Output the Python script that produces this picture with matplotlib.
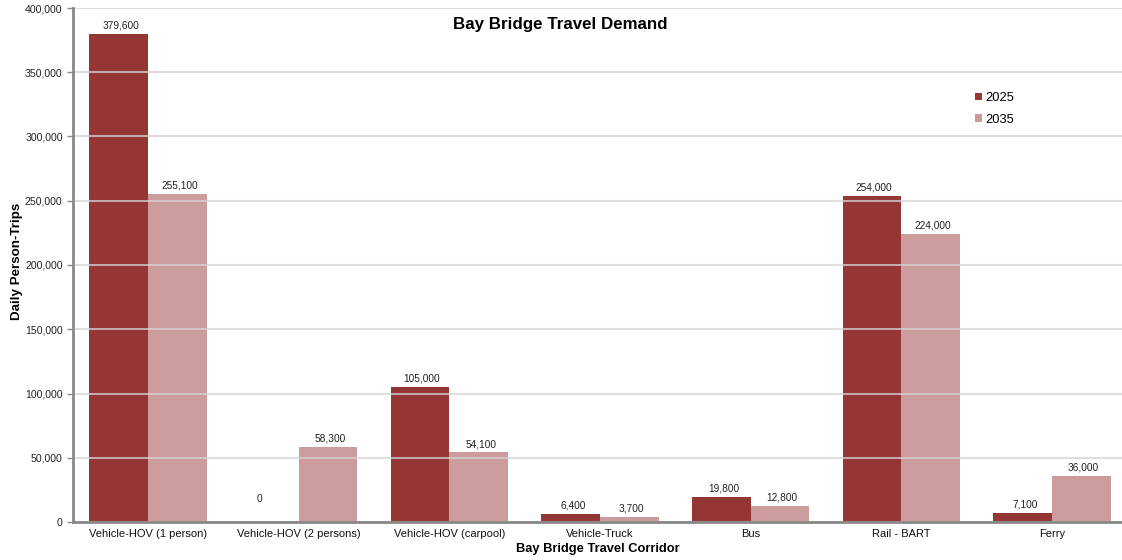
import matplotlib
matplotlib.use("Agg")
import matplotlib.pyplot as plt
import numpy as np

categories = ["Vehicle-HOV (1 person)", "Vehicle-HOV (2 persons)", "Vehicle-HOV (carpool)",
              "Vehicle-Truck", "Bus", "Rail - BART", "Ferry"]
values_2025 = [379600, 0, 105000, 6400, 19800, 254000, 7100]
values_2035 = [255100, 58300, 54100, 3700, 12800, 224000, 36000]
series_names = ["2025", "2035"]
colors = ["#943634", "#CC9B9B"]

plt.rcParams['font.family'] = ['Liberation Sans', 'DejaVu Sans']

fig = plt.figure(figsize=(11.22, 5.6), dpi=100)
ax = fig.add_axes([73/1122, 1 - 522/560, (1122-73)/1122, (522-8)/560])

x = np.arange(len(categories))
w = 0.39
b1 = ax.bar(x - w/2, values_2025, w, color=colors[0], label=series_names[0], zorder=2)
b2 = ax.bar(x + w/2, values_2035, w, color=colors[1], label=series_names[1], zorder=2)

for bars, vals in ((b1, values_2025), (b2, values_2035)):
    for r, v in zip(bars, vals):
        off = (1.5, 2.5) if v > 0 else (-7, 13)
        ax.annotate(f"{v:,}", (r.get_x() + r.get_width()/2, v), xytext=off,
                    textcoords="offset points", ha="center", va="bottom", fontsize=7.3, color="#222222")

ax.set_xlim(-(148-73)/150.67, (1122-148)/150.67)
ax.set_ylim(0, 400000)
ax.set_yticks(np.arange(0, 400001, 50000))
ax.yaxis.set_major_formatter(matplotlib.ticker.FuncFormatter(lambda v, p: f"{int(v):,}"))
ax.set_xticks(x)
ax.set_xticklabels(categories)
ax.tick_params(axis='y', labelsize=7.6, length=4, color="#888888", width=1, labelcolor="#222222")
ax.tick_params(axis='x', labelsize=8, length=0, pad=5, labelcolor="#111111")

ax.grid(axis='y', color="#D4D4D4", linewidth=1.5, zorder=3, alpha=0.75)
ax.set_axisbelow(False)
for s in ["top", "right"]:
    ax.spines[s].set_visible(False)
for s in ["left", "bottom"]:
    ax.spines[s].set_color("#888888")
    ax.spines[s].set_linewidth(2)
    ax.spines[s].set_zorder(4)

ax.set_xlabel("Bay Bridge Travel Corridor", fontsize=9.3, fontweight="bold", labelpad=3)
ax.set_ylabel("Daily Person-Trips", fontsize=9.6, fontweight="bold")
ax.yaxis.set_label_coords((23-73)/1049, (522-261)/514)
fig.text(560/1122, 1 - 25/560, "Bay Bridge Travel Demand", ha="center", va="center",
         fontsize=12.2, fontweight="bold")

leg = ax.legend(loc="upper left", frameon=False, fontsize=9.3, handlelength=0.55, handleheight=0.55,
                handletextpad=0.25, labelspacing=0.75, borderaxespad=0, borderpad=0)
leg.set_bbox_to_anchor(((975-73)/1049, (522-88)/514 - 4/514), transform=ax.transAxes)

fig.savefig("out.png", dpi=100)
